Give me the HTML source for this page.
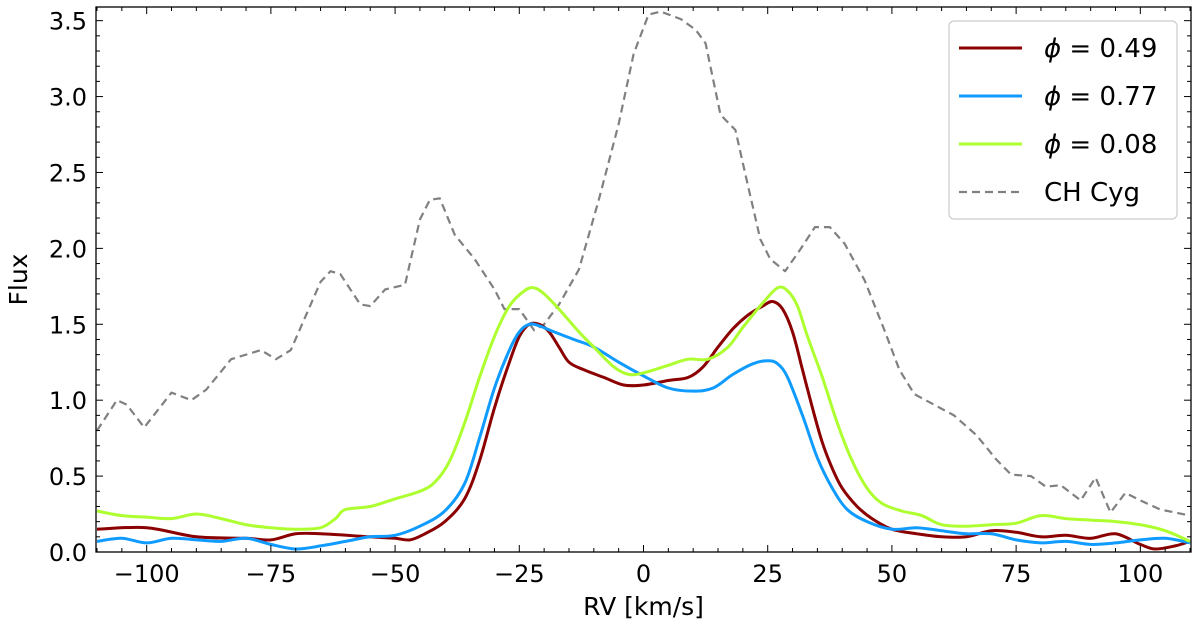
<!DOCTYPE html>
<html><head><meta charset="utf-8"><style>
body{margin:0;background:#fff;}
svg text{font-family:"DejaVu Sans","Liberation Sans",sans-serif;fill:#000;}
</style></head><body>
<svg id="chart" width="1200" height="626" xmlns="http://www.w3.org/2000/svg">
<g id="plot"></g>
<g id="axes"></g>
<g id="legend"></g>
</svg>
<script>
const xTicks=[-100,-75,-50,-25,0,25,50,75,100];
const yTicks=[0.0,0.5,1.0,1.5,2.0,2.5,3.0,3.5];
const seriesNames=["\u03D5 = 0.49","\u03D5 = 0.77","\u03D5 = 0.08","CH Cyg"];
const chcygX=[-110,-106,-104,-100.5,-95,-91,-88,-83,-77,-74,-71,-65,-63,-61,-57,-55,-52,-48,-45,-43,-41,-38,-34,-30,-28,-25,-22,-20,-17,-13,-9,-5,-2,1,3.5,7.5,10.5,12.5,15.5,18.5,20.5,23.5,25.5,28.5,31.5,34.5,37.5,40.5,44.5,48.5,51.5,54.5,58.5,62.5,67,71,74,78,81,84,88,91,94,97,100,104,110];
const chcygY=[0.80,1.0,0.97,0.82,1.05,1.0,1.07,1.27,1.33,1.27,1.33,1.78,1.85,1.83,1.63,1.62,1.73,1.76,2.19,2.32,2.33,2.09,1.93,1.73,1.60,1.60,1.46,1.50,1.63,1.86,2.32,2.82,3.28,3.54,3.56,3.51,3.44,3.35,2.88,2.78,2.49,2.06,1.93,1.85,1.99,2.14,2.14,2.03,1.79,1.46,1.20,1.04,0.97,0.90,0.77,0.61,0.51,0.50,0.43,0.44,0.34,0.49,0.26,0.39,0.34,0.28,0.24];
const redX=[-110,-100,-90,-80,-75,-70,-65,-55,-50,-47,-44,-40,-36,-33,-30,-27,-25,-23,-21,-19,-17,-15,-12,-8,-4,0,5,9,12,15,18,21,24,26,28,30,32,34,36,38,40,43,46,50,55,60,65,70,75,80,85,90,95,100,103,107,110];
const redY=[0.15,0.16,0.10,0.09,0.08,0.12,0.12,0.10,0.09,0.08,0.12,0.20,0.35,0.60,0.95,1.25,1.42,1.50,1.50,1.45,1.35,1.25,1.20,1.15,1.10,1.10,1.13,1.15,1.22,1.35,1.47,1.56,1.62,1.65,1.60,1.45,1.20,0.95,0.72,0.55,0.42,0.30,0.22,0.15,0.12,0.10,0.10,0.14,0.13,0.10,0.11,0.09,0.12,0.05,0.02,0.04,0.07];
const blueX=[-110,-105,-100,-95,-90,-85,-80,-75,-70,-65,-60,-55,-50,-45,-40,-36,-33,-30,-27,-25,-23,-21,-18,-14,-10,-5,0,5,10,14,18,22,25,27,29,32,35,38,41,45,50,55,60,65,70,75,80,85,90,95,100,105,110];
const blueY=[0.07,0.09,0.06,0.09,0.08,0.07,0.09,0.05,0.02,0.04,0.07,0.10,0.11,0.17,0.27,0.45,0.75,1.08,1.33,1.45,1.50,1.49,1.45,1.40,1.35,1.25,1.16,1.08,1.06,1.08,1.17,1.24,1.26,1.24,1.15,0.90,0.62,0.42,0.28,0.20,0.15,0.16,0.14,0.12,0.12,0.08,0.06,0.07,0.05,0.06,0.08,0.09,0.06];
const greenX=[-110,-105,-100,-95,-90,-85,-80,-75,-70,-65,-62,-60,-55,-50,-45,-42,-39,-36,-33,-30,-27,-24,-22,-20,-17,-13,-10,-6,-3,0,5,9,13,17,20,24,27,29,31,33,36,39,42,45,48,52,56,60,65,70,75,80,85,90,95,100,105,110];
const greenY=[0.27,0.24,0.23,0.22,0.25,0.22,0.18,0.16,0.15,0.16,0.22,0.28,0.30,0.35,0.40,0.46,0.60,0.85,1.15,1.42,1.62,1.72,1.74,1.70,1.60,1.45,1.35,1.22,1.17,1.18,1.23,1.27,1.27,1.35,1.48,1.64,1.74,1.72,1.62,1.42,1.15,0.85,0.60,0.42,0.32,0.27,0.24,0.18,0.17,0.18,0.19,0.24,0.22,0.21,0.20,0.18,0.14,0.07];

const L=96,R=1191,T=7,B=552,XMIN=-110.2,XMAX=110.2,YMIN=0,YMAX=3.59;
const sx=v=>L+(v-XMIN)/(XMAX-XMIN)*(R-L);
const sy=v=>B-(v-YMIN)/(YMAX-YMIN)*(B-T);
const NS="http://www.w3.org/2000/svg";
function mk(tag,attrs,parent){const e=document.createElementNS(NS,tag);for(const k in attrs)e.setAttribute(k,attrs[k]);parent.appendChild(e);return e;}
function smoothPath(P){let d='M'+P[0][0].toFixed(1)+','+P[0][1].toFixed(1);
  for(let i=0;i<P.length-1;i++){const p0=P[Math.max(0,i-1)],p1=P[i],p2=P[i+1],p3=P[Math.min(P.length-1,i+2)];
    const c1=[p1[0]+(p2[0]-p0[0])/6,p1[1]+(p2[1]-p0[1])/6],c2=[p2[0]-(p3[0]-p1[0])/6,p2[1]-(p3[1]-p1[1])/6];
    d+=' C'+c1[0].toFixed(1)+','+c1[1].toFixed(1)+' '+c2[0].toFixed(1)+','+c2[1].toFixed(1)+' '+p2[0].toFixed(1)+','+p2[1].toFixed(1);}
  return d;}
const plot=document.getElementById('plot'),axes=document.getElementById('axes'),leg=document.getElementById('legend');
const defs=mk('defs',{},plot);const cp=mk('clipPath',{id:'clip'},defs);mk('rect',{x:L,y:T,width:R-L,height:B-T},cp);
const series=[[chcygX,chcygY,'#808080',2.2,'8,5','ch-cyg-line',false],[redX,redY,'#8b0000',3,'','phase-049-line',true],[blueX,blueY,'#0f9bff',3,'','phase-077-line',true],[greenX,greenY,'#adff2f',3,'','phase-008-line',true]];
for(const s of series){
  const P=s[0].map((x,i)=>[sx(x),sy(s[1][i])]);
  const d=s[6]?smoothPath(P):'M'+P.map(p=>p[0].toFixed(1)+','+p[1].toFixed(1)).join(' L');
  const p=mk('path',{d:d,fill:'none',stroke:s[2],'stroke-width':s[3],'stroke-linejoin':'round','clip-path':'url(#clip)'},plot);
  if(s[4])p.setAttribute('stroke-dasharray',s[4]);
  
  
}
const fr=mk('rect',{x:L,y:T,width:R-L,height:B-T,fill:'none',stroke:'#000','stroke-width':1.3},axes);


for(let v=-110;v<=110;v+=5){const x=sx(v);const mj=v%25===0;const len=mj?7:4;
  mk('line',{x1:x,y1:B,x2:x,y2:B-len,stroke:'#000','stroke-width':1},axes);
  mk('line',{x1:x,y1:T,x2:x,y2:T+len,stroke:'#000','stroke-width':1},axes);}
for(let i=0;i<=35;i++){const v=i/10;const y=sy(v);const len=i%5===0?7:4;
  mk('line',{x1:L,y1:y,x2:L+len,y2:y,stroke:'#000','stroke-width':1},axes);
  mk('line',{x1:R,y1:y,x2:R-len,y2:y,stroke:'#000','stroke-width':1},axes);}
for(const v of xTicks){const t=mk('text',{x:sx(v),y:B+30,'text-anchor':'middle','font-size':24},axes);t.textContent=(v<0?'\u2212'+(-v):v);
  
  }
for(const v of yTicks){const t=mk('text',{x:L-9,y:sy(v)+9,'text-anchor':'end','font-size':24},axes);t.textContent=v.toFixed(1);
  
  }
const xt=mk('text',{x:(L+R)/2,y:615,'text-anchor':'middle','font-size':25},axes);xt.textContent='RV [km/s]';


const yt=mk('text',{x:27,y:(T+B)/2,'text-anchor':'middle','font-size':25,transform:'rotate(-90 27 '+((T+B)/2)+')'},axes);yt.textContent='Flux';


const lb=mk('rect',{x:949,y:21,width:228,height:198,rx:5,fill:'#fff','fill-opacity':0.85,stroke:'#ccc','stroke-width':1.2},leg);


const legStyles=[['#8b0000',3,''],['#0f9bff',3,''],['#adff2f',3,''],['#808080',2.2,'8,5']];
for(let i=0;i<4;i++){const y=48+i*48;
  const ln=mk('line',{x1:959,y1:y,x2:1022,y2:y,stroke:legStyles[i][0],'stroke-width':legStyles[i][1]},leg);
  if(legStyles[i][2])ln.setAttribute('stroke-dasharray',legStyles[i][2]);
  const t=mk('text',{x:1044,y:y+9,'font-size':26},leg);
  if(i<3){const parts=seriesNames[i].split(' = ');const a=mk('tspan',{'font-style':'italic'},t);a.textContent=parts[0];const b=mk('tspan',{},t);b.textContent=' = '+parts[1];}
  else t.textContent=seriesNames[i];
  
  
}
</script>
</body></html>
